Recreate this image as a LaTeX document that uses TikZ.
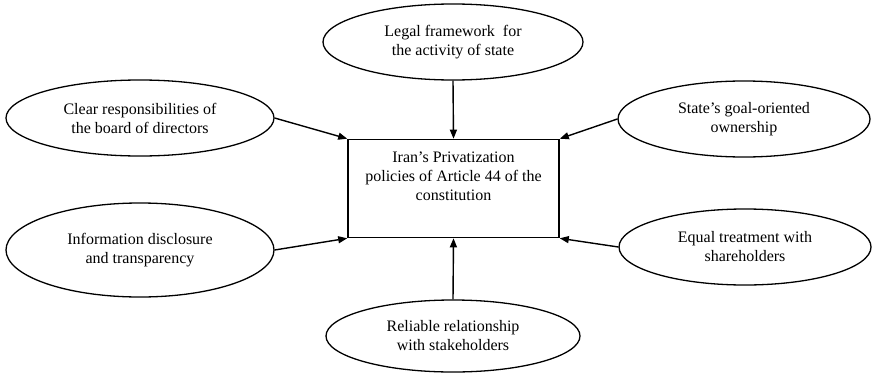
\documentclass[tikz,border=0pt]{standalone}
\usepackage{fontspec}
\setmainfont{Liberation Serif}
\usetikzlibrary{shapes.geometric,arrows.meta}
\begin{document}
\begin{tikzpicture}[x=1pt,y=-1pt,
  every node/.style={font=\fontsize{16}{19}\selectfont, align=center},
  factor/.style={ellipse, draw, line width=1.3pt, inner sep=0pt},
  core/.style={rectangle, draw, line width=1.6pt, inner sep=0pt,
    minimum width=211pt, minimum height=98pt},
  link/.style={line width=1.4pt, -{Triangle[length=9pt,width=7pt]}}]
  \useasboundingbox (0,0) rectangle (872,372);

  % central box and its caption
  \node[core] (policy) at (453.5,188.5) {};
  \node (policytext) at (453.5,176) {Iran’s Privatization\\policies of Article 44 of the\\constitution};

  % surrounding factors
  \node[factor, minimum width=260pt, minimum height=76pt] (legal) at (453,42)
    {Legal framework\ \ for\\the activity of state};
  \node[factor, minimum width=268pt, minimum height=76pt] (clear) at (140,118)
    {Clear responsibilities of\\the board of directors};
  \node[factor, minimum width=252pt, minimum height=76pt] (state) at (744,119)
    {State’s goal-oriented\\ownership};
  \node[factor, minimum width=268pt, minimum height=94pt] (info) at (140,250)
    {Information disclosure\\and transparency};
  \node[factor, minimum width=252pt, minimum height=76pt] (equal) at (745,247)
    {Equal treatment with\\shareholders};
  \node[factor, minimum width=254pt, minimum height=72pt] (reliable) at (453,336)
    {Reliable relationship\\with stakeholders};

  % arrows into the central box
  \draw[link] (legal.south) -- (policy.north);
  \draw[link] (reliable.north) -- (policy.south);
  \draw[link] (clear.east) -- (policy.north west);
  \draw[link] (info.east) -- (policy.south west);
  \draw[link] (state.west) -- (policy.north east);
  \draw[link] (equal.west) -- (policy.south east);
\end{tikzpicture}
\end{document}
